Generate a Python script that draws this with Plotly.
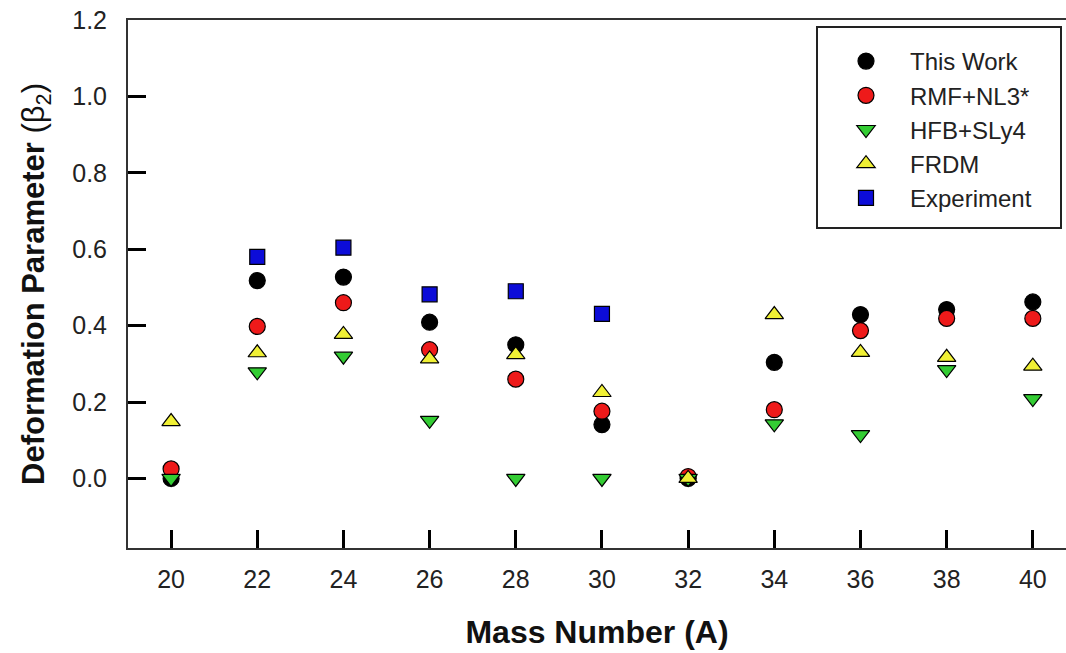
import plotly.graph_objects as go

mass = [20, 22, 24, 26, 28, 30, 32, 34, 36, 38, 40]
this_work = [0.0, 0.518, 0.527, 0.409, 0.35, 0.141, 0.0, 0.304, 0.429, 0.442, 0.462]
rmf_nl3 = [0.025, 0.398, 0.46, 0.337, 0.26, 0.176, 0.005, 0.18, 0.387, 0.419, 0.419]
hfb_sly4 = [0.0, 0.279, 0.32, 0.152, 0.0, 0.0, 0.0, 0.143, 0.115, 0.285, 0.209]
frdm = [0.149, 0.329, 0.377, 0.313, 0.324, 0.225, 0.0, 0.429, 0.33, 0.317, 0.294]
exp_mass = [22, 24, 26, 28, 30]
experiment = [0.58, 0.604, 0.482, 0.49, 0.431]

yticks = [0.0, 0.2, 0.4, 0.6, 0.8, 1.0, 1.2]
xticks = [20, 22, 24, 26, 28, 30, 32, 34, 36, 38, 40]

FONT = "Arial, Liberation Sans, sans-serif"
W, H = 1066, 653
L, R, T, B = 128, 0, 20, 105
PW, PH = W - L - R, H - T - B


def px_to_paper_x(px):
    return (px - L) / PW


def px_to_paper_y(py):
    return 1 - (py - T) / PH


fig = go.Figure()
series = [
    ("This Work", mass, this_work, "circle", "#000000"),
    ("RMF+NL3*", mass, rmf_nl3, "circle", "#ee1a1a"),
    ("HFB+SLy4", mass, hfb_sly4, "triangle-down", "#33cc33"),
    ("FRDM", mass, frdm, "triangle-up", "#f0f035"),
    ("Experiment", exp_mass, experiment, "square", "#0c0cd8"),
]
for name, xs, ys, sym, col in series:
    fig.add_trace(go.Scatter(
        x=xs, y=ys, mode="markers", name=name,
        marker=dict(symbol=sym, size=16 if sym != "square" else 15, color=col,
                    line=dict(color="#000000", width=1.2)),
    ))

# legend frame (no data lies under it)
fig.add_shape(type="rect", xref="paper", yref="paper",
              x0=px_to_paper_x(817), x1=px_to_paper_x(1061),
              y0=px_to_paper_y(228), y1=px_to_paper_y(27),
              line=dict(color="#222222", width=2), fillcolor="white", layer="above")

fig.update_layout(
    width=W, height=H,
    margin=dict(l=L, r=R, t=T, b=B),
    plot_bgcolor="white",
    font=dict(family=FONT, color="#222222", size=25),
    showlegend=True,
    legend=dict(
        x=px_to_paper_x(822), y=px_to_paper_y(39), xanchor="left", yanchor="top",
        bgcolor="rgba(0,0,0,0)", borderwidth=0,
        font=dict(family=FONT, size=24, color="#222222"),
        indentation=0, itemwidth=78,
        traceorder="normal",
    ),
)

fig.update_xaxes(
    range=[19, 40.77], tickvals=xticks,
    ticks="inside", ticklen=18, tickwidth=3, tickcolor="black",
    showline=True, linewidth=2, linecolor="#333333", mirror=True,
    showgrid=False, zeroline=False, automargin=False, layer="above traces",
    ticklabelstandoff=8,
    tickfont=dict(family=FONT, size=25, color="#222222"),
    title=dict(text="<b>Mass Number (A)</b>", standoff=29,
               font=dict(family=FONT, size=32, color="#111111")),
)
fig.update_yaxes(
    range=[-0.182, 1.2], tickvals=yticks, tickformat=".1f",
    ticks="inside", ticklen=18, tickwidth=3, tickcolor="black",
    showline=True, linewidth=2, linecolor="#333333",
    showgrid=False, zeroline=False, automargin=False, layer="above traces",
    ticklabelstandoff=14,
    tickfont=dict(family=FONT, size=25, color="#222222"),
    title=dict(text="<b>Deformation Parameter </b>(β<sub>2</sub>)", standoff=18,
               font=dict(family=FONT, size=31, color="#111111")),
)

fig.write_html("out.html", config={"displayModeBar": False},
               post_script="document.body.style.margin='0px';")
